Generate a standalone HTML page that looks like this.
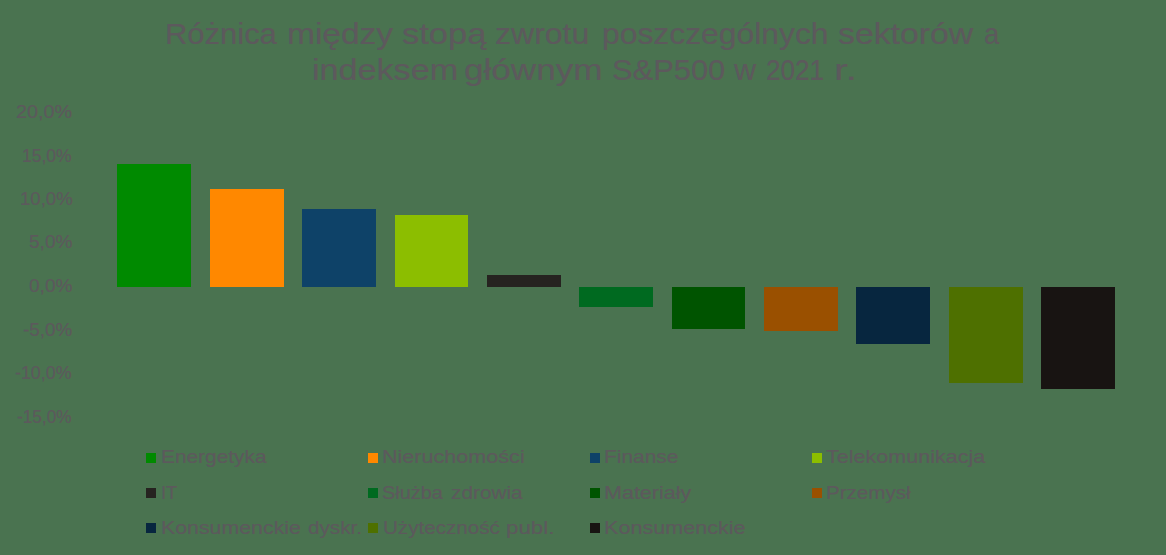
<!DOCTYPE html>
<html><head><meta charset="utf-8">
<style>
html,body{margin:0;padding:0;}
body{width:1166px;height:555px;background:#4a7350;position:relative;overflow:hidden;font-family:"Liberation Sans",sans-serif;color:#5d595d;}
.t{position:absolute;white-space:nowrap;line-height:1;transform-origin:0 0;}
.b{position:absolute;}
.sq{position:absolute;width:10px;height:10px;}
</style></head><body>
<div class="t" style="left:164.74px;top:18.50px;font-size:30px;transform:scaleX(1.0318);-webkit-text-stroke:0.2px #5d595d;">Różnica</div>
<div class="t" style="left:286.77px;top:18.50px;font-size:30px;transform:scaleX(1.1162);-webkit-text-stroke:0.2px #5d595d;">między</div>
<div class="t" style="left:401.51px;top:18.50px;font-size:30px;transform:scaleX(1.1494);-webkit-text-stroke:0.2px #5d595d;">stopą</div>
<div class="t" style="left:494.93px;top:18.50px;font-size:30px;transform:scaleX(1.0675);-webkit-text-stroke:0.2px #5d595d;">zwrotu</div>
<div class="t" style="left:601.50px;top:18.50px;font-size:30px;transform:scaleX(1.0614);-webkit-text-stroke:0.2px #5d595d;">poszczególnych</div>
<div class="t" style="left:837.76px;top:18.50px;font-size:30px;transform:scaleX(1.1259);-webkit-text-stroke:0.2px #5d595d;">sektorów</div>
<div class="t" style="left:984.03px;top:18.50px;font-size:30px;transform:scaleX(0.9081);-webkit-text-stroke:0.2px #5d595d;">a</div>
<div class="t" style="left:312.31px;top:54.51px;font-size:30px;transform:scaleX(1.1376);-webkit-text-stroke:0.2px #5d595d;">indeksem</div>
<div class="t" style="left:464.41px;top:54.51px;font-size:30px;transform:scaleX(1.1690);-webkit-text-stroke:0.2px #5d595d;">głównym</div>
<div class="t" style="left:611.55px;top:54.51px;font-size:30px;transform:scaleX(1.0287);-webkit-text-stroke:0.2px #5d595d;">S&amp;P500</div>
<div class="t" style="left:733.81px;top:54.51px;font-size:30px;transform:scaleX(1.0184);-webkit-text-stroke:0.2px #5d595d;">w</div>
<div class="t" style="left:765.52px;top:54.51px;font-size:30px;transform:scaleX(0.8693);-webkit-text-stroke:0.2px #5d595d;">2021</div>
<div class="t" style="left:833.74px;top:54.51px;font-size:30px;transform:scaleX(1.3846);-webkit-text-stroke:0.2px #5d595d;">r.</div>
<div class="t" style="left:15.90px;top:103.00px;font-size:18px;transform:scaleX(1.1000);-webkit-text-stroke:0.2px #5d595d;">20,0%</div>
<div class="t" style="left:22.42px;top:147.00px;font-size:18px;transform:scaleX(0.9740);-webkit-text-stroke:0.2px #5d595d;">15,0%</div>
<div class="t" style="left:20.17px;top:190.00px;font-size:18px;transform:scaleX(1.0320);-webkit-text-stroke:0.2px #5d595d;">10,0%</div>
<div class="t" style="left:28.74px;top:233.00px;font-size:18px;transform:scaleX(1.0603);-webkit-text-stroke:0.2px #5d595d;">5,0%</div>
<div class="t" style="left:28.73px;top:277.00px;font-size:18px;transform:scaleX(1.0606);-webkit-text-stroke:0.2px #5d595d;">0,0%</div>
<div class="t" style="left:23.16px;top:321.00px;font-size:18px;transform:scaleX(1.0458);-webkit-text-stroke:0.2px #5d595d;">-5,0%</div>
<div class="t" style="left:15.20px;top:364.00px;font-size:18px;transform:scaleX(0.9913);-webkit-text-stroke:0.2px #5d595d;">-10,0%</div>
<div class="t" style="left:17.22px;top:408.00px;font-size:18px;transform:scaleX(0.9556);-webkit-text-stroke:0.2px #5d595d;">-15,0%</div>
<div class="t" style="left:160.90px;top:446.92px;font-size:19px;transform:scaleX(1.0980);-webkit-text-stroke:0.2px #5d595d;">Energetyka</div>
<div class="t" style="left:382.11px;top:446.92px;font-size:19px;transform:scaleX(1.1355);-webkit-text-stroke:0.2px #5d595d;">Nieruchomości</div>
<div class="t" style="left:604.31px;top:446.92px;font-size:19px;transform:scaleX(1.1015);-webkit-text-stroke:0.2px #5d595d;">Finanse</div>
<div class="t" style="left:826.41px;top:446.92px;font-size:19px;transform:scaleX(1.1333);-webkit-text-stroke:0.2px #5d595d;">Telekomunikacja</div>
<div class="t" style="left:161.04px;top:483.12px;font-size:19px;transform:scaleX(0.9630);-webkit-text-stroke:0.2px #5d595d;">IT</div>
<div class="t" style="left:381.95px;top:483.12px;font-size:19px;transform:scaleX(1.0484);-webkit-text-stroke:0.2px #5d595d;">Służba</div>
<div class="t" style="left:450.71px;top:483.12px;font-size:19px;transform:scaleX(1.0941);-webkit-text-stroke:0.2px #5d595d;">zdrowia</div>
<div class="t" style="left:604.28px;top:483.12px;font-size:19px;transform:scaleX(1.1325);-webkit-text-stroke:0.2px #5d595d;">Materiały</div>
<div class="t" style="left:826.46px;top:483.12px;font-size:19px;transform:scaleX(1.0831);-webkit-text-stroke:0.2px #5d595d;">Przemysł</div>
<div class="t" style="left:161.12px;top:517.92px;font-size:19px;transform:scaleX(1.1228);-webkit-text-stroke:0.2px #5d595d;">Konsumenckie</div>
<div class="t" style="left:307.95px;top:517.92px;font-size:19px;transform:scaleX(1.0896);-webkit-text-stroke:0.2px #5d595d;">dyskr.</div>
<div class="t" style="left:382.51px;top:517.92px;font-size:19px;transform:scaleX(1.0840);-webkit-text-stroke:0.2px #5d595d;">Użyteczność</div>
<div class="t" style="left:505.57px;top:517.92px;font-size:19px;transform:scaleX(1.1745);-webkit-text-stroke:0.2px #5d595d;">publ.</div>
<div class="t" style="left:604.28px;top:517.92px;font-size:19px;transform:scaleX(1.1358);-webkit-text-stroke:0.2px #5d595d;">Konsumenckie</div>
<div class="b" style="left:117px;top:164px;width:74px;height:123px;background:#008a00;"></div>
<div class="b" style="left:210px;top:189px;width:74px;height:98px;background:#ff8800;"></div>
<div class="b" style="left:302px;top:209px;width:74px;height:78px;background:#0e4268;"></div>
<div class="b" style="left:395px;top:215px;width:73px;height:72px;background:#8cbe00;"></div>
<div class="b" style="left:487px;top:275px;width:74px;height:12px;background:#262320;"></div>
<div class="b" style="left:579px;top:287px;width:74px;height:20px;background:#006a20;"></div>
<div class="b" style="left:672px;top:287px;width:73px;height:42px;background:#005400;"></div>
<div class="b" style="left:764px;top:287px;width:74px;height:44px;background:#9a5000;"></div>
<div class="b" style="left:856px;top:287px;width:74px;height:57px;background:#07263f;"></div>
<div class="b" style="left:949px;top:287px;width:74px;height:96px;background:#4e7000;"></div>
<div class="b" style="left:1041px;top:287px;width:74px;height:102px;background:#181412;"></div>
<div class="sq" style="left:146px;top:453px;background:#008a00;"></div>
<div class="sq" style="left:368px;top:453px;background:#ff8800;"></div>
<div class="sq" style="left:590px;top:453px;background:#0e4268;"></div>
<div class="sq" style="left:812px;top:453px;background:#8cbe00;"></div>
<div class="sq" style="left:146px;top:488px;background:#262320;"></div>
<div class="sq" style="left:368px;top:488px;background:#006a20;"></div>
<div class="sq" style="left:590px;top:488px;background:#005400;"></div>
<div class="sq" style="left:812px;top:488px;background:#9a5000;"></div>
<div class="sq" style="left:146px;top:523px;background:#07263f;"></div>
<div class="sq" style="left:368px;top:523px;background:#4e7000;"></div>
<div class="sq" style="left:590px;top:523px;background:#181412;"></div>
</body></html>
